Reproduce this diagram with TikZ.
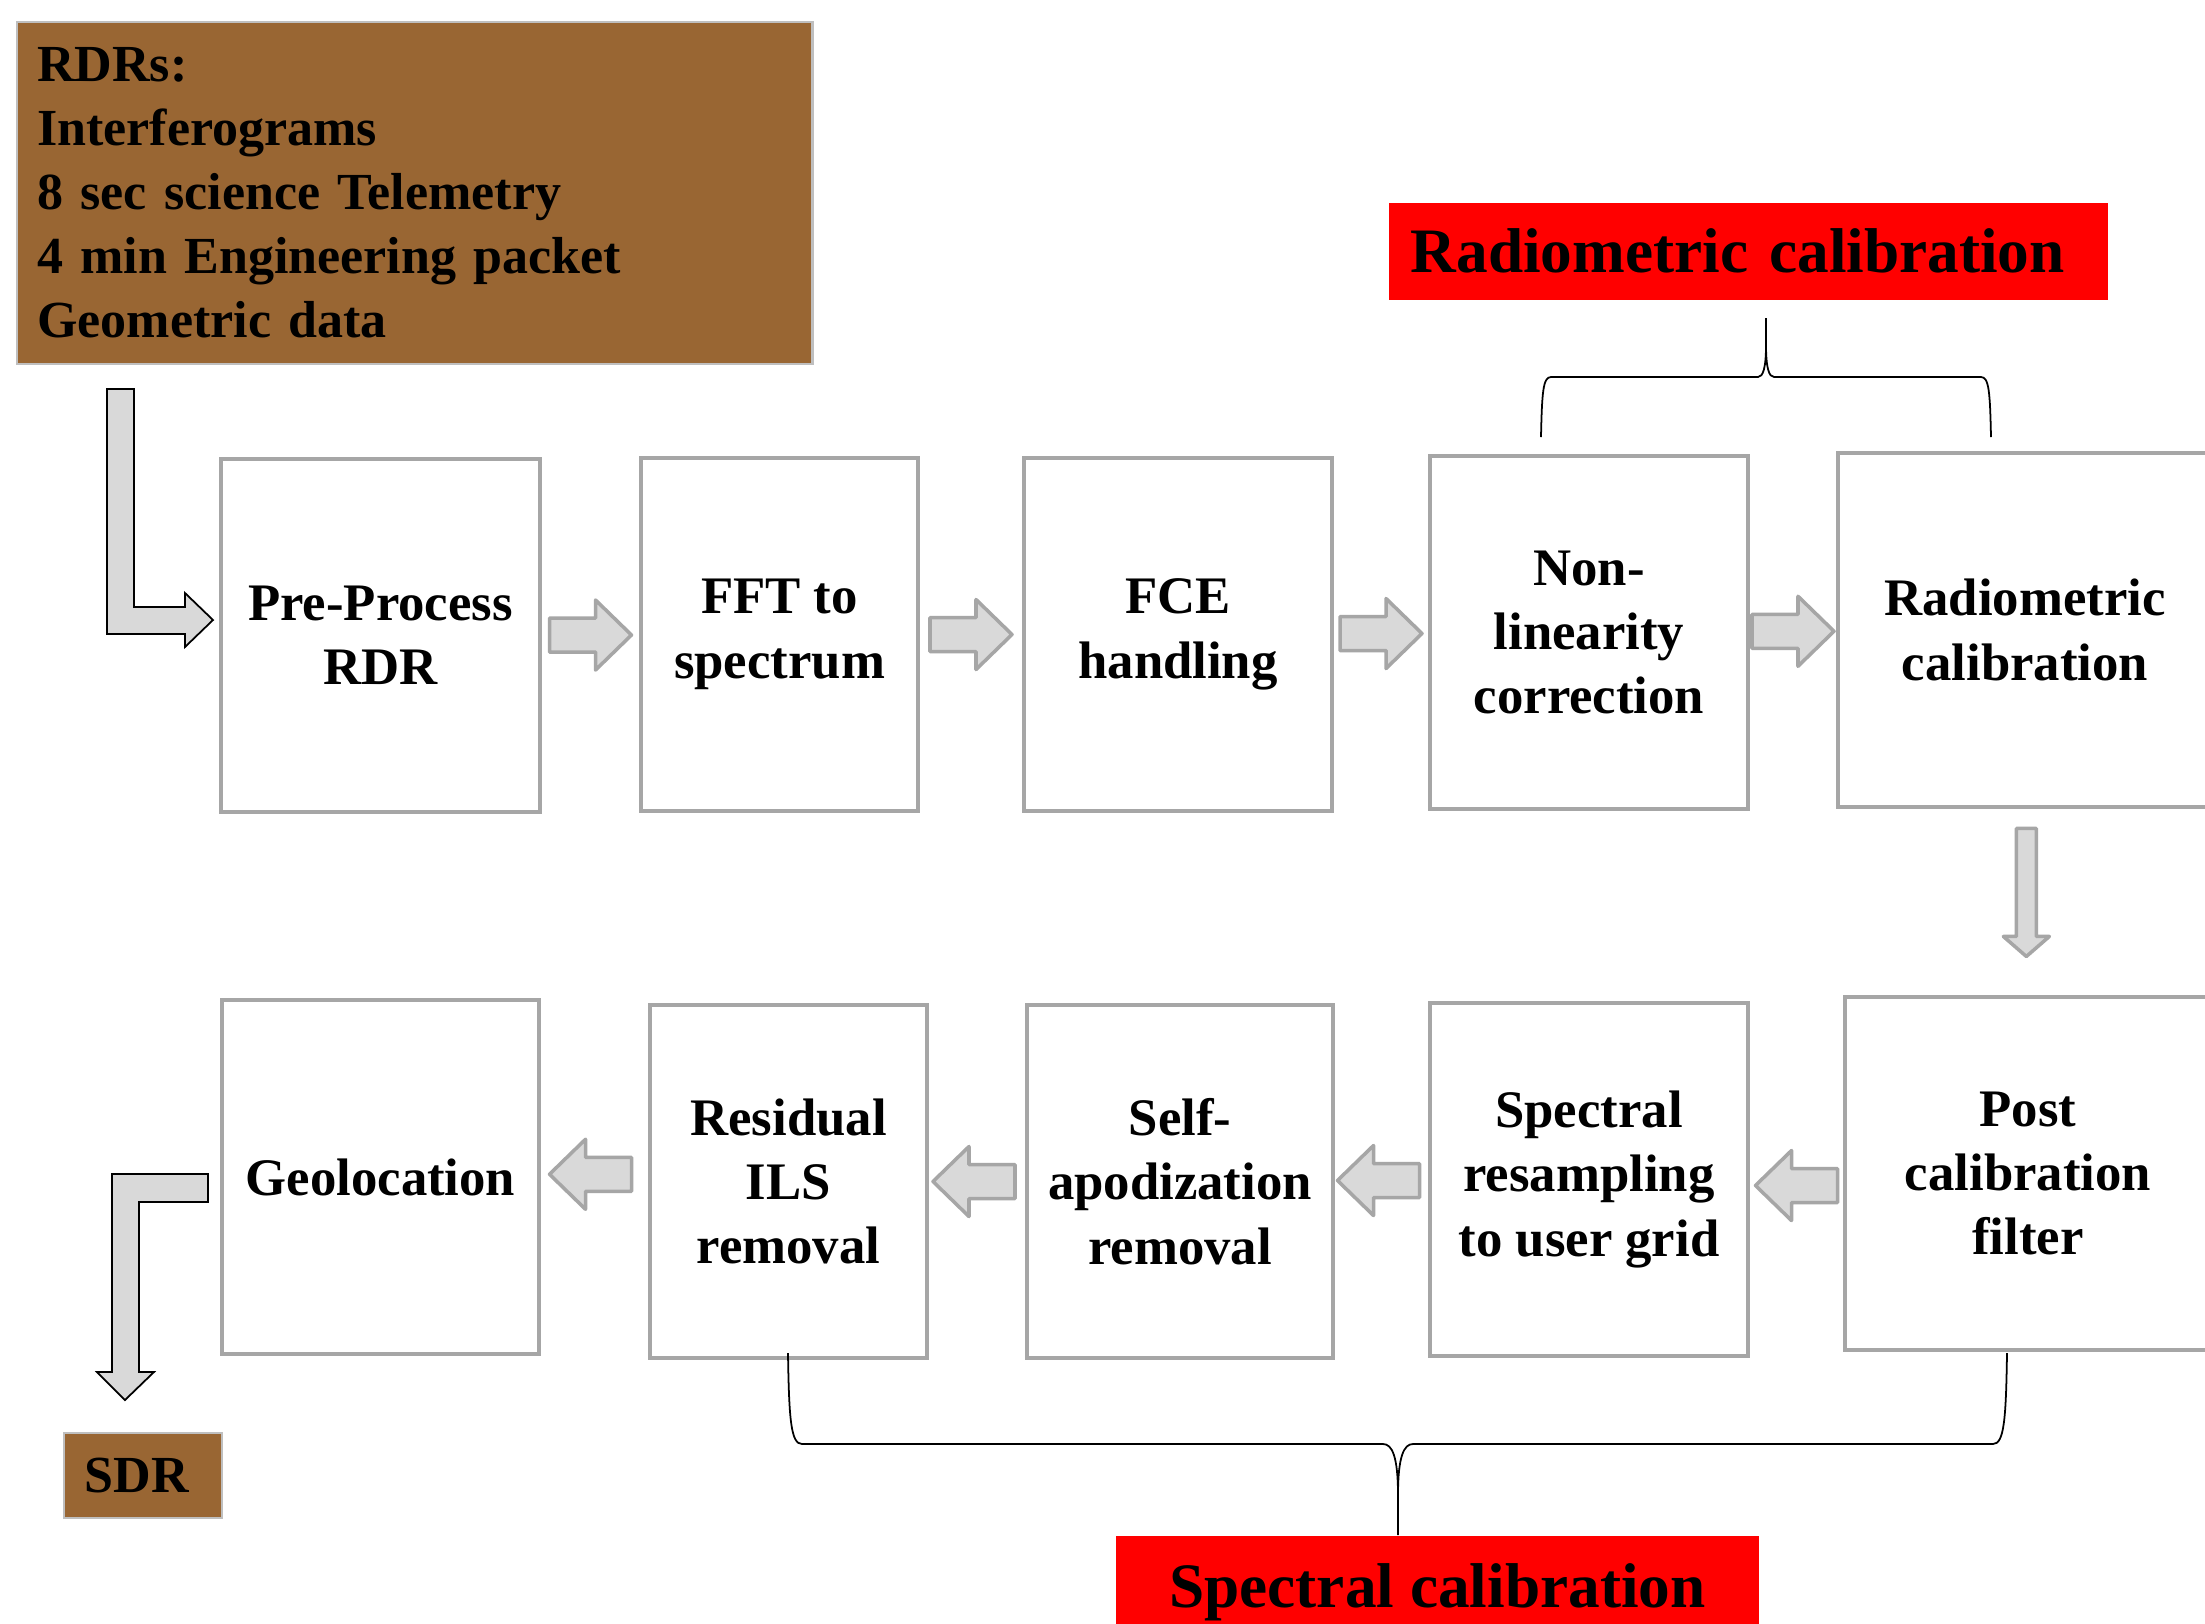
\documentclass[tikz,border=0pt]{standalone}
\usepackage{fontspec}
\setmainfont{Liberation Serif}
\usetikzlibrary{calc}
\definecolor{boxgray}{RGB}{166,166,166}
\definecolor{arrowfill}{RGB}{217,217,217}
\definecolor{rdrbrown}{RGB}{153,102,51}
\definecolor{rimgray}{RGB}{191,191,191}
\definecolor{tagred}{RGB}{255,0,0}

\begin{document}
\begin{tikzpicture}[x=0.01cm, y=-0.01cm,
	stage/.style={draw=boxgray, line width=1.15pt, fill=white, align=center, inner sep=0pt,
		minimum height=3.53cm, font=\bfseries\fontsize{15}{18.3}\selectfont},
	datum/.style={draw=rimgray, line width=0.6pt, fill=rdrbrown, align=left, inner ysep=0pt,
		inner xsep=0.2cm, font=\bfseries\fontsize{14.8}{18.2}\selectfont},
	calibtag/.style={fill=tagred, inner ysep=0pt, font=\bfseries\fontsize{18}{21}\selectfont},
	brace/.style={black, line width=0.5pt},
	bendarrow/.style={draw=black, line width=0.5pt, fill=arrowfill},
	flowarrow/.pic={\draw[draw=boxgray, line width=1pt, fill=arrowfill, line join=round]
		(-41,-17) -- (5,-17) -- (5,-35) -- (41,0) -- (5,35) -- (5,17) -- (-41,17) -- cycle;},
	droparrow/.pic={\draw[draw=boxgray, line width=1pt, fill=arrowfill, line join=round]
		(-64,-10) -- (44,-10) -- (44,-23) -- (64,0) -- (44,23) -- (44,10) -- (-64,10) -- cycle;}
	]
		\useasboundingbox (0,0) rectangle (2205,1623);
		\fill[white] (0,0) rectangle (2205,1623);
		\clip (0,0) rectangle (2205,1623);

		% input data
		\node[datum, anchor=north west, text width=7.55cm, minimum height=3.42cm] (rdrs) at (16,21)
			{RDRs:\\Interferograms\\8 sec science Telemetry\\4 min Engineering packet\\Geometric data};

		% first row
		\node[stage, minimum width=3.19cm] (pre) at (380.5,635.5) {Pre-Process\\RDR};
		\node[stage, minimum width=2.77cm] (fft) at (779.5,634.5) {FFT to\\spectrum};
		\node[stage, minimum width=3.08cm] (fce) at (1178,634.5) {FCE\\handling};
		\node[stage, minimum width=3.18cm] (nonlin) at (1589,632.5) {Non-\\linearity\\correction};
		\node[stage, minimum width=3.74cm] (radcal) at (2025,630) {Radiometric\\calibration};

		% second row
		\node[stage, minimum width=3.66cm] (postcal) at (2028,1173.5) {Post\\calibration\\filter};
		\node[stage, minimum width=3.18cm] (resamp) at (1589,1179.5) {Spectral\\resampling\\to user grid};
		\node[stage, minimum width=3.06cm] (selfapod) at (1180,1181.5) {Self-\\apodization\\removal};
		\node[stage, minimum width=2.77cm] (resid) at (788.5,1181.5) {Residual\\ILS\\removal};
		\node[stage, minimum width=3.17cm] (geo) at (380.5,1177) {Geolocation};

		\node[datum, text width=1.16cm, inner xsep=0.21cm, minimum height=0.85cm] (sdr) at (143,1475.5) {SDR};

		% labels
		\node[calibtag, anchor=north west, text width=6.75cm, inner xsep=0.22cm, minimum height=0.97cm,
			align=left] (radtag) at (1388,202) {Radiometric calibration};
		\node[calibtag, anchor=north west, minimum width=6.43cm, minimum height=1.14cm] (spectag) at (1115,1535)
			{Spectral calibration};

		% arrows
		\pic at ($(pre.east)!.5!(fft.west)$) {flowarrow};
		\pic at ($(fft.east)!.5!(fce.west)$) {flowarrow};
		\pic at ($(fce.east)!.5!(nonlin.west)$) {flowarrow};
		\pic at ($(nonlin.east)!.5!(radcal.west)$) {flowarrow};
		\pic[rotate=-90] at ($(radcal.south)!.45!(postcal.north)$) {droparrow};
		\pic[rotate=180] at ($(postcal.west)!.5!(resamp.east) + (0,9)$) {flowarrow};
		\pic[rotate=180] at ($(resamp.west)!.5!(selfapod.east) + (-3,0)$) {flowarrow};
		\pic[rotate=180] at ($(selfapod.west)!.5!(resid.east) + (-3,0)$) {flowarrow};
		\pic[rotate=180] at ($(resid.west)!.5!(geo.east) + (-4,-5)$) {flowarrow};

		\draw[bendarrow] (107,389) -- (134,389) -- (134,607) -- (185,607) -- (185,593) -- (213,620)
			-- (185,647) -- (185,634) -- (107,634) -- cycle;
		\draw[bendarrow] (208,1174) -- (208,1202) -- (139,1202) -- (139,1372) -- (154,1372) -- (125,1400)
			-- (97,1372) -- (112,1372) -- (112,1174) -- cycle;

		% braces
		\draw[brace] (1541,437) .. controls (1542,392) and (1543,377) .. (1551,377) -- (1758,377)
			.. controls (1763,377) and (1766,368) .. (1766,345) -- (1766,318);
		\draw[brace] (1991,437) .. controls (1990,392) and (1989,377) .. (1981,377) -- (1774,377)
			.. controls (1769,377) and (1766,368) .. (1766,345);
		\draw[brace] (788,1353) .. controls (789,1420) and (791,1444) .. (802,1444) -- (1383,1444)
			.. controls (1392,1444) and (1398,1456) .. (1398,1495) -- (1398,1535);
		\draw[brace] (2007,1353) .. controls (2006,1420) and (2004,1444) .. (1993,1444) -- (1413,1444)
			.. controls (1404,1444) and (1398,1456) .. (1398,1495);
	\end{tikzpicture}
\end{document}
